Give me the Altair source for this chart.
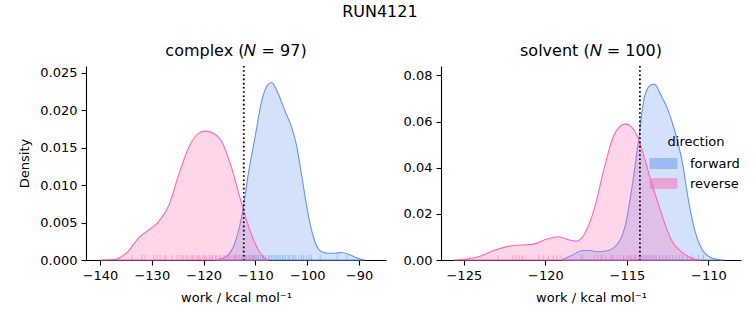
import altair as alt
import pandas as pd

# ---------------- data ----------------
DIRS = ["forward", "reverse"]
COLORS = ["#6495ED", "#FF69B4"]

# complex panel – KDE curves
cx_fwd = [-117.8, -115.8, -113.9, -112.6, -111.3, -110.1, -108.8, -107.5, -106.9, -105.6, -104.3,
          -103.0, -102.1, -101.1, -99.8, -98.5, -97.2, -96.0, -94.7, -93.4, -92.1, -90.8, -89.6, -88.8]
cd_fwd = [0.0, 0.0004, 0.0024, 0.006, 0.0118, 0.0163, 0.0212, 0.0235, 0.0237, 0.0222, 0.0199,
          0.0177, 0.0154, 0.0114, 0.006, 0.0024, 0.0011, 0.0009, 0.0009, 0.001, 0.0008, 0.0004, 0.0001, 0.0]
cx_rev = [-140.0, -137.0, -134.4, -132.5, -130.6, -128.7, -126.7, -124.8, -122.9, -121.0, -119.7,
          -117.8, -116.2, -114.6, -113.3, -112.0, -110.7, -109.4, -108.1, -107.5]
cd_rev = [0.0, 0.0001, 0.0013, 0.003, 0.004, 0.0051, 0.0073, 0.0114, 0.015, 0.0169, 0.0172,
          0.0168, 0.0154, 0.0123, 0.0091, 0.006, 0.0033, 0.0013, 0.0002, 0.0]

# solvent panel – KDE curves
sx_fwd = [-119.0, -118.4, -117.8, -117.4, -116.8, -116.2, -115.5, -115.1, -114.7, -114.3, -113.9,
          -113.5, -113.3, -112.9, -112.5, -112.1, -111.6, -111.2, -110.8, -110.4, -110.0, -109.4, -109.0]
sd_fwd = [0.0, 0.0019, 0.004, 0.0042, 0.0036, 0.004, 0.0077, 0.0149, 0.0308, 0.0511, 0.0713,
          0.076, 0.0762, 0.0713, 0.0655, 0.0569, 0.0424, 0.025, 0.012, 0.0048, 0.0016, 0.0002, 0.0]
sx_rev = [-125.6, -124.8, -124.0, -123.2, -122.3, -121.5, -120.7, -119.9, -119.2, -118.6, -118.1,
          -117.6, -117.0, -116.4, -115.8, -115.1, -114.7, -114.3, -113.9, -113.5, -113.1, -112.7,
          -112.3, -111.6, -111.0, -110.5]
sd_rev = [0.0, 0.0004, 0.0016, 0.004, 0.0059, 0.0065, 0.0069, 0.0091, 0.0101, 0.0088, 0.0082,
          0.0113, 0.0221, 0.0395, 0.054, 0.059, 0.0576, 0.0525, 0.0438, 0.0337, 0.025, 0.0163,
          0.0091, 0.0033, 0.0007, 0.0]

# rug values (estimated)
c_rug_rev = [-133.8, -131.9, -131.3, -129.6, -129.0, -128.4, -127.6, -127.3, -126.1, -125.1, -124.6,
             -124.2, -123.9, -123.4, -123.1, -122.5, -122.2, -121.9, -121.3, -121.0, -120.7, -120.1,
             -119.8, -119.5, -118.9, -118.6, -118.3, -117.7, -117.5, -117.0, -116.7, -116.1, -115.9,
             -115.4, -115.1, -114.8, -114.3, -113.9, -113.6, -113.0, -112.6, -111.9, -111.4, -110.7, -110.2]
c_rug_fwd = [-113.9, -113.2, -112.6, -112.1, -111.7, -111.2, -110.9, -110.4, -110.1, -109.7, -109.4,
             -109.0, -108.6, -108.4, -108.0, -107.5, -107.3, -106.9, -106.6, -106.2, -105.9, -105.5,
             -105.2, -104.8, -104.5, -104.2, -103.7, -103.4, -102.9, -102.6, -102.2, -101.6, -101.1,
             -100.7, -100.1, -99.6, -99.2, -97.5, -94.2, -92.3]
s_rug_rev = [-122.9, -122.0, -121.8, -121.6, -121.4, -120.4, -120.1, -119.8, -119.5, -119.3, -119.0,
             -117.0, -116.8, -116.5, -116.3, -116.0, -115.8, -115.6, -115.4, -115.2, -115.0, -114.9,
             -114.7, -114.5, -114.3, -114.1, -113.9, -113.7, -113.5, -113.3, -113.0, -112.6]
s_rug_fwd = [-117.8, -117.7, -116.6, -115.9, -115.2, -114.8, -114.5, -114.2, -114.0, -113.8, -113.6,
             -113.4, -113.2, -113.0, -112.8, -112.6, -112.4, -112.2, -112.0, -111.8, -111.6, -111.3,
             -111.0, -110.6, -110.3]

c_vline = [-112.25]
s_vline = [-114.2]

c_xticks = [-140, -130, -120, -110, -100, -90]
s_xticks = [-125, -120, -115, -110]
c_yticks = [0.0, 0.005, 0.01, 0.015, 0.02, 0.025]
s_yticks = [0.0, 0.02, 0.04, 0.06, 0.08]

FONT = "DejaVu Sans"
W, H = 300, 194


def panel(title, fx, fd, rx, rd, rug_f, rug_r, vline, xdom, ydom, xticks, yticks, yfmt,
          ytitle, show_legend):
    curves = pd.DataFrame({
        "work": fx + rx,
        "density": fd + rd,
        "direction": ["forward"] * len(fx) + ["reverse"] * len(rx),
    })
    xs = alt.Scale(domain=xdom, nice=False, zero=False)
    ys = alt.Scale(domain=ydom, nice=False, zero=False)
    cs = alt.Scale(domain=DIRS, range=COLORS)
    xaxis = alt.Axis(values=xticks, format="d", title="work / kcal mol⁻¹")
    yaxis = alt.Axis(values=yticks, format=yfmt, title=ytitle)
    if show_legend:
        leg = alt.Legend(
            title="direction", orient="none", legendX=212, legendY=70,
            symbolType="M-1.35,-0.5H1.35V0.5H-1.35Z", symbolSize=400,
            symbolStrokeWidth=1, symbolOpacity=0.5, labelOffset=16, rowPadding=2,
            titleAnchor="middle", titlePadding=4,
        )
        fill = alt.Fill("direction:N", scale=cs, legend=leg)
        stroke = alt.Stroke("direction:N", scale=cs, legend=leg)
    else:
        fill = alt.Fill("direction:N", scale=cs, legend=None)
        stroke = alt.Stroke("direction:N", scale=cs, legend=None)

    area = alt.Chart(curves).mark_area(
        interpolate="monotone", fillOpacity=0.28, strokeOpacity=1, strokeWidth=1.1
    ).encode(
        x=alt.X("work:Q", scale=xs, axis=xaxis),
        y=alt.Y("density:Q", scale=ys, axis=yaxis, stack=None),
        fill=fill,
        stroke=stroke,
    )

    def rug(vals, color):
        return alt.Chart(pd.DataFrame({"work": vals})).mark_rule(
            color=color, opacity=0.5, strokeWidth=1
        ).encode(
            x=alt.X("work:Q", scale=xs),
            y=alt.value(H - 5),
            y2=alt.value(H),
        )

    vl = alt.Chart(pd.DataFrame({"work": vline})).mark_rule(
        color="black", strokeDash=[1.6, 2.6], strokeWidth=1.8
    ).encode(x=alt.X("work:Q", scale=xs))

    return alt.layer(area, rug(rug_r, COLORS[1]), rug(rug_f, COLORS[0]), vl).properties(
        width=W, height=H,
        title=alt.Title(title, fontSize=16, fontWeight="normal", font=FONT, offset=6, color="black"),
    )


left = panel("complex (𝑁 = 97)", cx_fwd, cd_fwd, cx_rev, cd_rev, c_rug_fwd, c_rug_rev, c_vline,
             [-142.7, -84.8], [0, 0.0259], c_xticks, c_yticks, ".3f", "Density", False)
right = panel("solvent (𝑁 = 100)", sx_fwd, sd_fwd, sx_rev, sd_rev, s_rug_fwd, s_rug_rev, s_vline,
              [-126.4, -108.0], [0, 0.0841], s_xticks, s_yticks, ".2f", None, True)

chart = alt.hconcat(left, right, spacing=17).resolve_scale(
    x="independent", y="independent", fill="independent", stroke="independent"
).resolve_legend(fill="independent", stroke="independent").properties(
    title=alt.Title("RUN4121", fontSize=16, fontWeight="normal", font=FONT, color="black",
                    anchor="middle", offset=23),
    padding={"left": 18, "top": 4, "right": 5, "bottom": 5},
).configure_view(stroke=None).configure_axis(
    grid=False, domainColor="black", tickColor="black", labelColor="black", titleColor="black",
    labelFont=FONT, titleFont=FONT, labelFontSize=13, titleFontSize=13, titleFontWeight="normal",
    tickSize=5, labelPadding=4, domainWidth=1.1, tickWidth=1.1, zindex=1,
).configure_axisY(titlePadding=8).configure_axisX(titlePadding=9).configure_legend(
    labelFont=FONT, titleFont=FONT, labelFontSize=13, titleFontSize=13, titleFontWeight="normal",
    labelColor="black", titleColor="black",
)

chart.save("out.html", embed_options={"renderer": "svg", "actions": False})
